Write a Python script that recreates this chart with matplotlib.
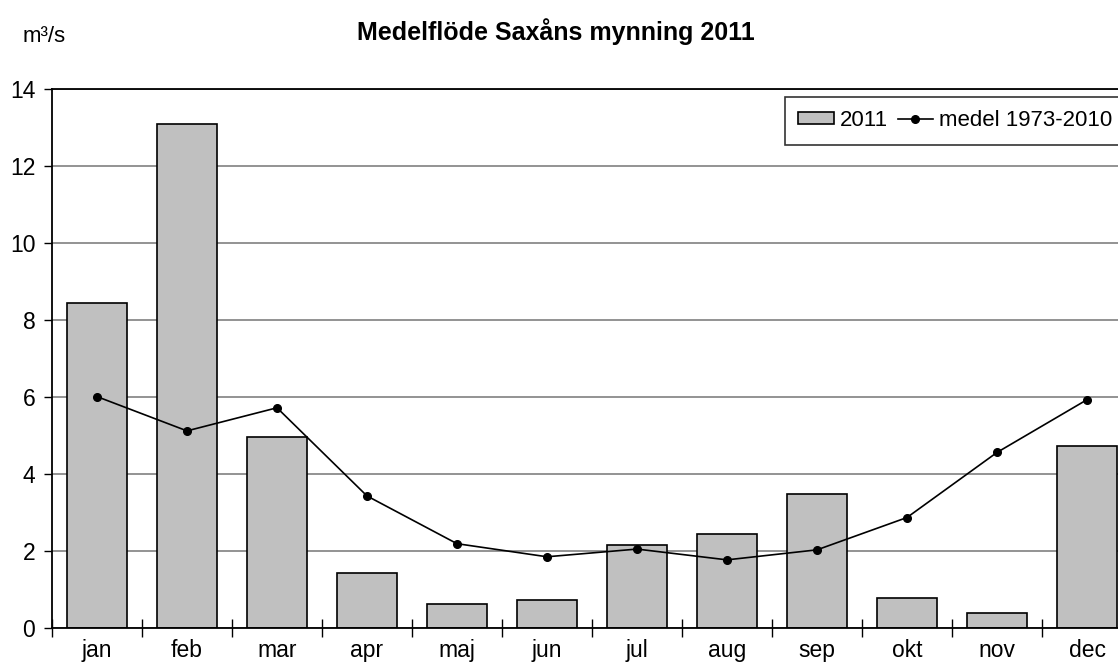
import matplotlib.pyplot as plt
import numpy as np

plt.rcParams['font.family'] = ['Liberation Sans', 'DejaVu Sans']

# --- data ---
months = ["jan", "feb", "mar", "apr", "maj", "jun", "jul", "aug", "sep", "okt", "nov", "dec"]
flow_2011 = [8.43, 13.1, 4.97, 1.42, 0.62, 0.72, 2.15, 2.43, 3.47, 0.79, 0.38, 4.73]
mean_1973_2010 = [6.01, 5.12, 5.72, 3.43, 2.19, 1.85, 2.05, 1.77, 2.03, 2.87, 4.56, 5.93]

fig = plt.figure(figsize=(11.18, 6.66), dpi=100)
W, H = 1118, 666
# axes extends a bit past the right edge, like the original
ax = fig.add_axes([52 / W, 1 - 628 / H, 1080 / W, 539 / H])

x = np.arange(len(months))
bars = ax.bar(x, flow_2011, width=0.667, color="#c0c0c0", edgecolor="black",
              linewidth=1.2, label="2011", zorder=2)
line, = ax.plot(x, mean_1973_2010, color="black", linewidth=1.2, marker="o",
                markersize=5.5, label="medel 1973-2010", zorder=3)

ax.set_xlim(-0.5, 11.5)
ax.set_ylim(0, 14)
ax.set_yticks(range(0, 15, 2))
ax.yaxis.grid(True, color="#808080", linewidth=1.2, zorder=0)
ax.set_axisbelow(True)

ax.set_xticks(x)
ax.set_xticklabels(months, fontsize=16.5)
ax.set_xticks(np.arange(-0.5, 12, 1), minor=True)
ax.tick_params(axis="x", which="major", length=0, pad=8)
ax.tick_params(axis="x", which="minor", direction="inout", length=13, width=1)
ax.tick_params(axis="y", direction="out", length=6, width=1, labelsize=16.5, pad=6)

for s in ax.spines.values():
    s.set_linewidth(1.3)
ax.spines["right"].set_visible(False)

fig.text(556 / W, 1 - 32 / H, "Medelflöde Saxåns mynning 2011", ha="center", va="center",
         fontsize=18, fontweight="bold")
fig.text(23 / W, 1 - 36 / H, "m³/s", ha="left", va="center", fontsize=16)

leg = ax.legend([bars, line], ["2011", "medel 1973-2010"],
                loc="upper left", bbox_to_anchor=(785 / W, 1 - 97 / H),
                bbox_transform=fig.transFigure, ncol=2, fontsize=16, frameon=True,
                fancybox=False, edgecolor="black", borderaxespad=0,
                handlelength=1.6, handleheight=0.45, handletextpad=0.25,
                columnspacing=0.45, borderpad=0.6)
leg.get_frame().set_linewidth(1.2)

fig.savefig("out.png", dpi=100)
